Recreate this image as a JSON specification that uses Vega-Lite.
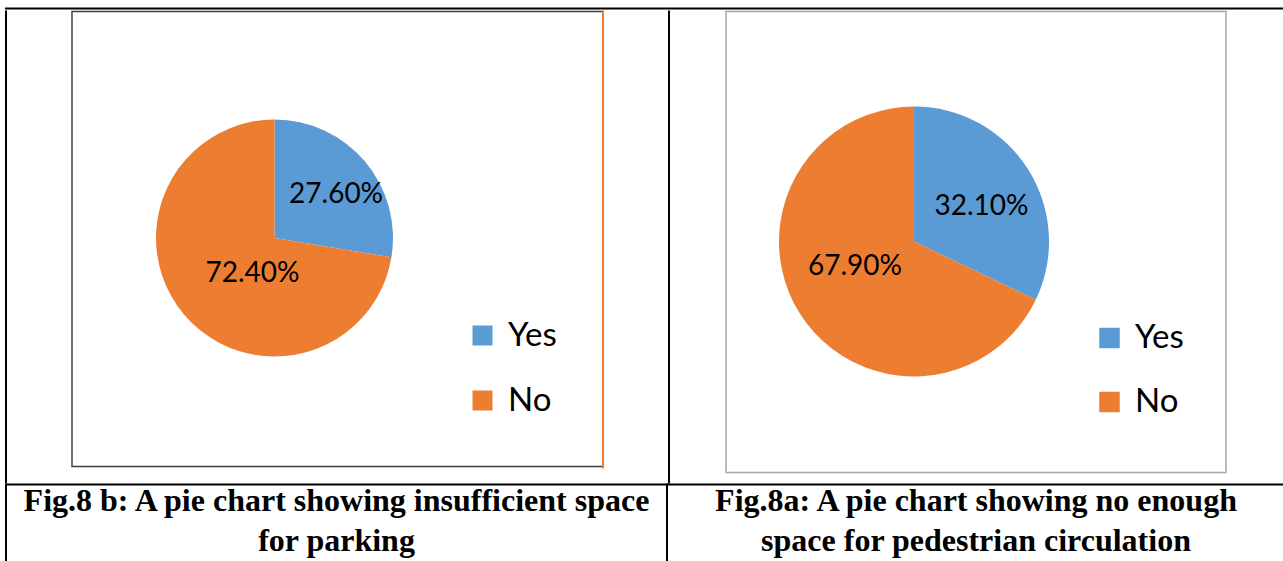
{
  "$schema": "https://vega.github.io/schema/vega-lite/v6.json",
  "background": "white",
  "padding": {"left": 5, "top": 7.5, "right": -3, "bottom": -3},
  "autosize": {"type": "pad"},
  "spacing": 0,
  "resolve": {"scale": {"color": "independent"}, "legend": {"color": "independent"}},
  "config": {"view": {"stroke": null}},
  "datasets": {
    "parking": [
      {"answer": "Yes", "share": 0.276},
      {"answer": "No", "share": 0.724}
    ],
    "pedestrian": [
      {"answer": "Yes", "share": 0.321},
      {"answer": "No", "share": 0.679}
    ]
  },
  "vconcat": [
    {"width": 1279, "height": 0.01, "data": {"values": []}, "mark": "text", "view": {"stroke": "black", "strokeWidth": 2}},
    {
      "spacing": 0,
      "bounds": "flush",
      "resolve": {"scale": {"color": "independent"}, "legend": {"color": "independent"}},
      "hconcat": [
        {"width": 0.01, "height": 471, "data": {"values": []}, "mark": "text", "view": {"stroke": "black", "strokeWidth": 2}},
        {"width": 65, "height": 10, "data": {"values": []}, "mark": "text"},
        {
          "width": 531,
          "height": 455,
          "view": {"stroke": "#3F3F3F", "strokeWidth": 1.5},
          "data": {"name": "parking"},
          "encoding": {
            "theta": {"field": "share", "type": "quantitative", "stack": true},
            "order": {"field": "answer", "sort": "descending"}
          },
          "layer": [
            {
              "mark": {"type": "arc", "outerRadius": 118.5, "x": 202.5, "y": 226.5},
              "encoding": {
                "color": {
                  "field": "answer",
                  "type": "nominal",
                  "sort": ["Yes", "No"],
                  "scale": {"domain": ["Yes", "No"], "range": ["#5B9BD5", "#ED7D31"]},
                  "legend": {
                    "orient": "none", "legendX": 394, "legendY": 307.5, "title": null,
                    "symbolType": "square", "symbolSize": 400, "symbolStrokeWidth": 0, "symbolOpacity": 1,
                    "labelFont": "Lato", "labelFontSize": 33, "labelColor": "black", "labelOffset": 9,
                    "rowPadding": 31, "padding": 0, "direction": "vertical"
                  }
                }
              }
            },
            {
              "mark": {"type": "text", "radius": 74.7, "dx": 4.6, "dy": 5.3, "x": 202.5, "y": 226.5, "font": "Lato", "fontSize": 28, "color": "black", "align": "center", "baseline": "middle"},
              "encoding": {
                "detail": {"field": "answer"},
                "text": {"condition": {"test": "datum.answer === 'Yes'", "field": "share", "type": "quantitative", "format": ".2%"}, "value": ""}
              }
            },
            {
              "mark": {"type": "text", "radius": 39.7, "dx": 8.3, "dy": 9.9, "x": 202.5, "y": 226.5, "font": "Lato", "fontSize": 28, "color": "black", "align": "center", "baseline": "middle"},
              "encoding": {
                "detail": {"field": "answer"},
                "text": {"condition": {"test": "datum.answer === 'No'", "field": "share", "type": "quantitative", "format": ".2%"}, "value": ""}
              }
            }
          ]
        },
        {"width": 0.01, "height": 456, "data": {"values": []}, "mark": "text", "view": {"stroke": "#ED7D31", "strokeWidth": 2}},
        {"width": 65, "height": 10, "data": {"values": []}, "mark": "text"},
        {"width": 0.01, "height": 471, "data": {"values": []}, "mark": "text", "view": {"stroke": "black", "strokeWidth": 2}},
        {"width": 56, "height": 10, "data": {"values": []}, "mark": "text"},
        {
          "width": 500,
          "height": 461,
          "view": {"stroke": "#A6A6A6", "strokeWidth": 1.5},
          "data": {"name": "pedestrian"},
          "encoding": {
            "theta": {"field": "share", "type": "quantitative", "stack": true},
            "order": {"field": "answer", "sort": "descending"}
          },
          "layer": [
            {
              "mark": {"type": "arc", "outerRadius": 135, "x": 188, "y": 230},
              "encoding": {
                "color": {
                  "field": "answer",
                  "type": "nominal",
                  "sort": ["Yes", "No"],
                  "scale": {"domain": ["Yes", "No"], "range": ["#5B9BD5", "#ED7D31"]},
                  "legend": {
                    "orient": "none", "legendX": 367, "legendY": 310, "title": null,
                    "symbolType": "square", "symbolSize": 420, "symbolStrokeWidth": 0, "symbolOpacity": 1,
                    "labelFont": "Lato", "labelFontSize": 33, "labelColor": "black", "labelOffset": 9,
                    "rowPadding": 30, "padding": 0, "direction": "vertical"
                  }
                }
              }
            },
            {
              "mark": {"type": "text", "radius": 75.5, "dx": 3.6, "dy": 5.7, "x": 188, "y": 230, "font": "Lato", "fontSize": 28, "color": "black", "align": "center", "baseline": "middle"},
              "encoding": {
                "detail": {"field": "answer"},
                "text": {"condition": {"test": "datum.answer === 'Yes'", "field": "share", "type": "quantitative", "format": ".2%"}, "value": ""}
              }
            },
            {
              "mark": {"type": "text", "radius": 63.5, "dx": -5.3, "dy": -8.3, "x": 188, "y": 230, "font": "Lato", "fontSize": 28, "color": "black", "align": "center", "baseline": "middle"},
              "encoding": {
                "detail": {"field": "answer"},
                "text": {"condition": {"test": "datum.answer === 'No'", "field": "share", "type": "quantitative", "format": ".2%"}, "value": ""}
              }
            }
          ]
        },
        {"width": 62, "height": 10, "data": {"values": []}, "mark": "text"}
      ]
    },
    {
      "spacing": 0,
      "bounds": "flush",
      "hconcat": [
        {
          "width": 661,
          "height": 82,
          "view": {"stroke": "black", "strokeWidth": 2},
          "data": {"values": [{"caption": ["Fig.8 b: A pie chart showing insufficient space", "for parking"]}]},
          "mark": {"type": "text", "font": "Liberation Serif", "fontWeight": "bold", "fontSize": 32, "lineHeight": 40, "align": "center", "baseline": "middle", "dy": -25, "color": "black"},
          "encoding": {"text": {"field": "caption", "type": "nominal"}}
        },
        {
          "width": 618,
          "height": 82,
          "view": {"stroke": "black", "strokeWidth": 2},
          "data": {"values": [{"caption": ["Fig.8a: A pie chart showing no enough", "space for pedestrian circulation"]}]},
          "mark": {"type": "text", "font": "Liberation Serif", "fontWeight": "bold", "fontSize": 32, "lineHeight": 40, "align": "center", "baseline": "middle", "dy": -25, "color": "black"},
          "encoding": {"text": {"field": "caption", "type": "nominal"}}
        }
      ]
    }
  ]
}
